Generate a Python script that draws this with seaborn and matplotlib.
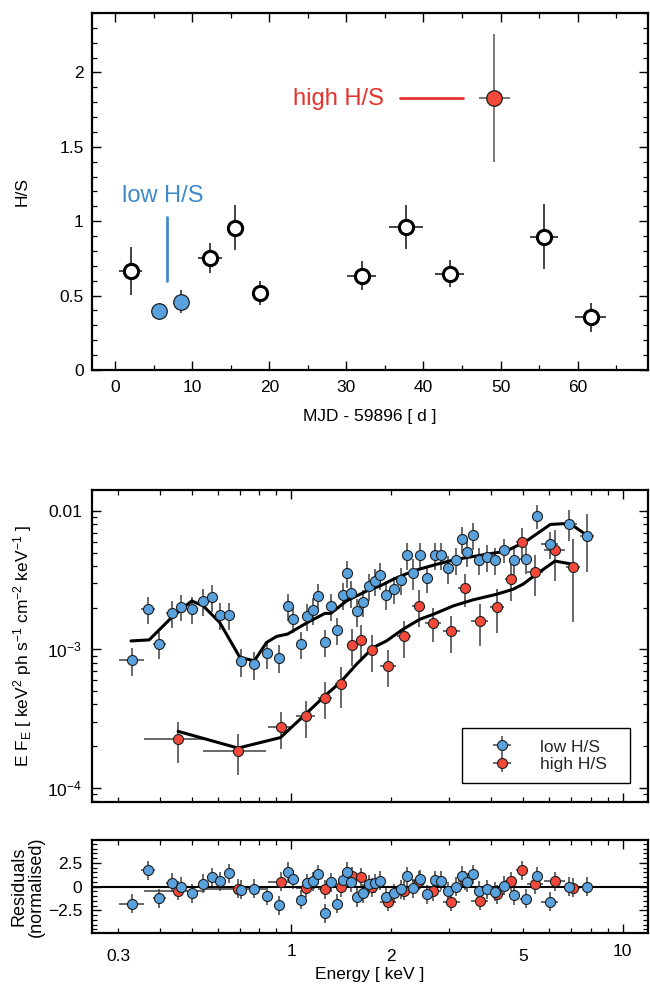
import numpy as np
import pandas as pd
import matplotlib
matplotlib.use("Agg")
import matplotlib.pyplot as plt
import seaborn as sns
from matplotlib.ticker import FixedLocator, FuncFormatter, MultipleLocator, NullFormatter
from matplotlib.lines import Line2D
from matplotlib.patches import Rectangle
from matplotlib.legend_handler import HandlerTuple

# ---------------- top panel: hardness ratio light curve ----------------
days = [2.0, 5.7, 8.5, 12.3, 15.6, 18.8, 32.0, 37.7, 43.4, 49.2, 55.6, 61.7]
days_err = [1.5, 0.3, 0.3, 1.6, 0.3, 0.3, 1.9, 2.2, 1.9, 2.0, 1.8, 2.0]
hs = [0.664, 0.396, 0.46, 0.755, 0.956, 0.516, 0.635, 0.96, 0.648, 1.83, 0.896, 0.353]
hs_err = [0.16, 0.05, 0.08, 0.10, 0.15, 0.08, 0.10, 0.15, 0.09, 0.43, 0.22, 0.095]
state = ["other", "low", "low", "other", "other", "other", "other", "other",
         "other", "high", "other", "other"]

# ---------------- middle panel: spectra (E F_E, units of 1e-3) ----------------
energy_low = [0.330, 0.370, 0.399, 0.435, 0.465, 0.501, 0.540, 0.574, 0.610, 0.649,
              0.705, 0.773, 0.845, 0.919, 0.974, 1.013, 1.068, 1.116, 1.158, 1.199,
              1.259, 1.315, 1.371, 1.427, 1.470, 1.515, 1.573, 1.643, 1.717, 1.786,
              1.857, 1.936, 2.033, 2.144, 2.240, 2.329, 2.441, 2.574, 2.715, 2.837,
              2.978, 3.134, 3.267, 3.390, 3.545, 3.686, 3.899, 4.122, 4.395, 4.690,
              5.107, 5.527, 6.036, 6.902, 7.818]
energy_low_err = [0.028, 0.018, 0.018, 0.016, 0.015, 0.018, 0.018, 0.016, 0.018, 0.02,
                  0.025, 0.03, 0.03, 0.03, 0.02, 0.02, 0.022, 0.022, 0.02, 0.02,
                  0.025, 0.025, 0.025, 0.02, 0.02, 0.02, 0.025, 0.03, 0.03, 0.03,
                  0.035, 0.04, 0.045, 0.05, 0.045, 0.05, 0.06, 0.07, 0.07, 0.06,
                  0.07, 0.08, 0.07, 0.07, 0.08, 0.09, 0.11, 0.12, 0.14, 0.16,
                  0.2, 0.22, 0.35, 0.4, 0.4]
flux_low_e3 = [0.835, 1.97, 1.10, 1.82, 2.04, 1.96, 2.25, 2.39, 1.77, 1.77,
               0.817, 0.777, 0.937, 0.872, 2.06, 1.67, 1.10, 1.73, 1.93, 2.45,
               1.13, 2.06, 1.37, 2.46, 3.55, 2.55, 1.89, 2.21, 2.86, 3.12,
               3.45, 2.46, 2.75, 3.16, 4.79, 3.59, 4.79, 3.30, 4.84, 4.84,
               3.85, 4.45, 6.29, 5.09, 6.75, 4.40, 4.65, 4.45, 5.26, 4.40,
               4.48, 9.25, 5.74, 8.10, 6.59]
flux_low_relerr = [0.23, 0.22, 0.22, 0.22, 0.22, 0.22, 0.22, 0.22, 0.22, 0.22,
                   0.23, 0.23, 0.23, 0.23, 0.22, 0.22, 0.22, 0.22, 0.22, 0.22,
                   0.22, 0.22, 0.22, 0.22, 0.22, 0.22, 0.23, 0.22, 0.22, 0.22,
                   0.22, 0.22, 0.22, 0.22, 0.22, 0.25, 0.22, 0.22, 0.22, 0.22,
                   0.23, 0.22, 0.22, 0.23, 0.22, 0.22, 0.22, 0.22, 0.2, 0.22,
                   0.22, 0.2, 0.22, 0.25, 0.45]
resid_low = [-1.81, 1.74, -1.22, 0.42, 0.0, -0.69, 0.31, 1.0, 0.59, 1.39,
             -0.31, -0.24, -0.94, -1.96, 1.56, 0.80, -1.39, 0.35, 0.56, 1.32,
             -2.81, 0.45, -1.81, 0.66, 1.56, 0.45, -1.11, -0.69, 0.24, 0.35,
             0.63, -1.04, -0.69, -0.28, 1.11, -0.17, 0.76, -0.80, 0.69, 0.63,
             -0.49, 0.0, 1.15, 0.45, 1.28, -0.42, -0.28, -0.56, 0.10, -0.90,
             -1.28, 1.11, -1.60, -0.03, 0.0]

energy_high = [0.455, 0.690, 0.927, 1.104, 1.262, 1.407, 1.523, 1.622, 1.749, 1.959,
               2.189, 2.419, 2.678, 3.040, 3.344, 3.703, 4.168, 4.613, 4.978, 5.452,
               6.249, 7.082]
energy_high_err = [0.095, 0.15, 0.08, 0.07, 0.06, 0.05, 0.04, 0.05, 0.06, 0.11,
                   0.1, 0.1, 0.15, 0.18, 0.15, 0.22, 0.2, 0.2, 0.2, 0.3,
                   0.45, 0.35]
flux_high_e3 = [0.224, 0.184, 0.273, 0.327, 0.444, 0.563, 1.08, 1.17, 0.981, 0.760,
                1.24, 2.07, 1.56, 1.35, 2.77, 1.59, 2.02, 3.22, 6.00, 3.63,
                5.24, 3.94]
flux_high_relerr = [0.33, 0.33, 0.30, 0.30, 0.30, 0.33, 0.30, 0.28, 0.30, 0.30,
                    0.30, 0.30, 0.28, 0.30, 0.27, 0.33, 0.35, 0.30, 0.25, 0.33,
                    0.40, 0.60]
resid_high = [-0.45, -0.21, 0.49, -0.14, -0.28, -0.07, 1.11, 0.97, -0.07, -1.60,
              -0.42, 0.63, -0.49, -1.60, 0.6, -1.49, -0.80, 0.56, 1.70, 0.24,
              0.56, -0.14]

# best-fitting models (units of 1e-3)
model_low_energy = [0.328, 0.372, 0.435, 0.500, 0.542, 0.608, 0.699, 0.773, 0.841, 0.902,
                    0.974, 1.116, 1.262, 1.315, 1.467, 1.717, 1.849, 2.029, 2.332, 2.741,
                    3.149, 3.878, 4.456, 5.120, 6.050, 6.923, 7.858]
model_low_flux_e3 = [1.15, 1.17, 1.70, 2.24, 2.06, 1.56, 0.873, 0.826, 1.12, 1.24,
                     1.29, 1.56, 1.82, 1.82, 2.24, 2.70, 2.87, 3.21, 3.69, 4.12,
                     4.48, 4.87, 5.14, 6.07, 8.01, 8.15, 6.59]
model_high_energy = [0.455, 0.690, 0.927, 1.104, 1.262, 1.407, 1.573, 1.765, 1.936, 2.175,
                     2.441, 2.678, 3.077, 3.533, 4.156, 4.667, 5.001, 5.484, 6.249, 7.082]
model_high_flux_e3 = [0.255, 0.193, 0.230, 0.340, 0.461, 0.579, 0.781, 1.03, 1.15, 1.40,
                      1.65, 1.79, 2.06, 2.28, 2.50, 2.72, 2.96, 3.49, 4.35, 4.12]

legend_labels = ["low H/S", "high H/S"]

# ---------------- style ----------------
BLUE = "#5aa2dd"
RED = "#f2493a"
BLUE_TXT = "#3f8bc9"
RED_TXT = "#e5322a"
EDGE = "#1e1e1e"
ECOL = "#404040"

sns.set_theme(style="ticks")
plt.rcParams.update({
    "font.family": ["Liberation Sans", "DejaVu Sans"],
    "font.size": 12.5,
    "mathtext.fontset": "custom",
    "mathtext.rm": "Liberation Sans",
    "mathtext.it": "Liberation Sans:italic",
    "mathtext.bf": "Liberation Sans:bold",
    "mathtext.default": "regular",
    "axes.linewidth": 1.6,
    "axes.edgecolor": "black",
    "axes.labelcolor": "black",
    "xtick.color": "black",
    "ytick.color": "black",
    "xtick.direction": "in",
    "ytick.direction": "in",
    "xtick.top": True,
    "ytick.right": True,
    "xtick.major.size": 6.5,
    "ytick.major.size": 6.5,
    "xtick.minor.size": 3.5,
    "ytick.minor.size": 3.5,
    "xtick.major.width": 1.0,
    "ytick.major.width": 1.0,
    "xtick.minor.width": 0.9,
    "ytick.minor.width": 0.9,
    "xtick.labelsize": 12.5,
    "ytick.labelsize": 12.5,
    "axes.labelsize": 12.5,
})

fig = plt.figure(figsize=(6.5, 9.9), dpi=100)
ax1 = fig.add_axes([0.1415, 0.6263, 0.855, 0.3606])
ax2 = fig.add_axes([0.1415, 0.1902, 0.855, 0.3148])
ax3 = fig.add_axes([0.1415, 0.0573, 0.855, 0.0942], sharex=ax2)

# ---------------- top panel ----------------
df_top = pd.DataFrame(dict(day=days, day_err=days_err, hs=hs, hs_err=hs_err, state=state))
for st, ec in [("other", "#111111"), ("low", "#222222"), ("high", "#555555")]:
    d = df_top[df_top.state == st]
    ax1.errorbar(d.day, d.hs, xerr=d.day_err, yerr=d.hs_err, fmt="none",
                 ecolor=ec, elinewidth=1.1, zorder=2)
sns.scatterplot(data=df_top[df_top.state == "other"], x="day", y="hs", ax=ax1,
                s=105, color="white", edgecolor="black", linewidth=2.2, zorder=3, legend=False)
sns.scatterplot(data=df_top[df_top.state == "low"], x="day", y="hs", ax=ax1,
                s=125, color=BLUE, edgecolor=EDGE, linewidth=0.9, zorder=3, legend=False)
sns.scatterplot(data=df_top[df_top.state == "high"], x="day", y="hs", ax=ax1,
                s=125, color=RED, edgecolor=EDGE, linewidth=0.9, zorder=3, legend=False)

ax1.text(0.9, 1.17, "low H/S", color=BLUE_TXT, fontsize=17, ha="left", va="center")
ax1.plot([6.67, 6.67], [0.6, 1.03], color=BLUE_TXT, lw=2.0)
ax1.text(23.1, 1.82, "high H/S", color=RED_TXT, fontsize=17, ha="left", va="center")
ax1.plot([36.9, 45.1], [1.83, 1.83], color=RED_TXT, lw=2.0)

ax1.set_xlim(-3, 69.1)
ax1.set_ylim(0, 2.4)
ax1.xaxis.set_major_locator(MultipleLocator(10))
ax1.xaxis.set_minor_locator(MultipleLocator(5))
ax1.yaxis.set_major_locator(MultipleLocator(0.5))
ax1.yaxis.set_minor_locator(MultipleLocator(0.1))
ax1.yaxis.set_major_formatter(FuncFormatter(lambda v, p: f"{v:g}"))
ax1.tick_params(axis="x", which="major", pad=7)
ax1.tick_params(axis="y", which="major", pad=6)
ax1.set_xlabel("MJD - 59896 [ d ]", labelpad=10)
ax1.set_ylabel("H/S")
ax1.yaxis.set_label_coords(-0.112, 0.5)

# ---------------- middle panel ----------------
E_lo = np.array(energy_low)
F_lo = np.array(flux_low_e3) * 1e-3
E_hi = np.array(energy_high)
F_hi = np.array(flux_high_e3) * 1e-3

ax2.set_xscale("log")
ax2.set_yscale("log")
ax2.errorbar(E_hi, F_hi, xerr=energy_high_err, yerr=F_hi * np.array(flux_high_relerr),
             fmt="none", ecolor=ECOL, elinewidth=1.1, zorder=2)
ax2.errorbar(E_lo, F_lo, xerr=energy_low_err, yerr=F_lo * np.array(flux_low_relerr),
             fmt="none", ecolor=ECOL, elinewidth=1.1, zorder=2)

df_mlo = pd.DataFrame(dict(energy=model_low_energy, flux=np.array(model_low_flux_e3) * 1e-3))
df_mhi = pd.DataFrame(dict(energy=model_high_energy, flux=np.array(model_high_flux_e3) * 1e-3))
sns.lineplot(data=df_mlo, x="energy", y="flux", ax=ax2, color="black", lw=2.2,
             sort=False, estimator=None, zorder=3)
sns.lineplot(data=df_mhi, x="energy", y="flux", ax=ax2, color="black", lw=2.2,
             sort=False, estimator=None, zorder=3)

sns.scatterplot(x=E_hi, y=F_hi, ax=ax2, s=52, color=RED, edgecolor=EDGE,
                linewidth=0.8, zorder=4, legend=False)
sns.scatterplot(x=E_lo, y=F_lo, ax=ax2, s=52, color=BLUE, edgecolor=EDGE,
                linewidth=0.8, zorder=4, legend=False)

ax2.set_xlim(0.25, 11.9)
ax2.set_ylim(7.9e-5, 0.0142)
ylab = {1e-2: "0.01", 1e-3: "$10^{-3}$", 1e-4: "$10^{-4}$"}
ax2.yaxis.set_major_locator(FixedLocator([1e-4, 1e-3, 1e-2]))
ax2.yaxis.set_major_formatter(FuncFormatter(
    lambda v, p: next((s for k, s in ylab.items() if abs(v / k - 1) < 1e-6), "")))
ax2.yaxis.set_minor_locator(FixedLocator(
    [m * 10.0 ** e for e in (-5, -4, -3, -2) for m in range(2, 10)]))
ax2.yaxis.set_minor_formatter(NullFormatter())
ax2.tick_params(axis="y", which="major", pad=7)
ax2.set_ylabel("E F$_E$ [ keV$^2$ ph s$^{-1}$ cm$^{-2}$ keV$^{-1}$ ]")
ax2.yaxis.set_label_coords(-0.105, 0.5)
ax2.set_xlabel("")
plt.setp(ax2.get_xticklabels(which="both"), visible=False)

# legend: frame drawn as a plain box, entries = error cross + marker overlaid
ax2.add_patch(Rectangle((0.665, 0.06), 0.303, 0.176, transform=ax2.transAxes,
                        facecolor="white", edgecolor="black", lw=1.0, zorder=5))
h_low = (Line2D([], [], marker="+", ms=13, mew=1.1, color=ECOL, ls="none"),
         Line2D([], [], marker="o", ms=7.2, mfc=BLUE, mec=EDGE, mew=0.8, ls="none"))
h_high = (Line2D([], [], marker="+", ms=13, mew=1.1, color=ECOL, ls="none"),
          Line2D([], [], marker="o", ms=7.2, mfc=RED, mec=EDGE, mew=0.8, ls="none"))
leg = ax2.legend([h_low, h_high], legend_labels,
                 handler_map={tuple: HandlerTuple(ndivide=1, pad=0)},
                 loc="center left", bbox_to_anchor=(0.677, 0.148),
                 fontsize=12.5, frameon=False, borderpad=0, labelspacing=0.12,
                 handlelength=3.9, handletextpad=0.25, borderaxespad=0)
leg.set_zorder(6)

# ---------------- bottom panel: residuals ----------------
ax3.errorbar(E_hi, resid_high, xerr=energy_high_err, yerr=1.0, fmt="none",
             ecolor=ECOL, elinewidth=1.1, zorder=2)
ax3.errorbar(E_lo, resid_low, xerr=energy_low_err, yerr=1.0, fmt="none",
             ecolor=ECOL, elinewidth=1.1, zorder=2)
ax3.axhline(0, color="black", lw=1.5, zorder=3)
sns.scatterplot(x=E_hi, y=resid_high, ax=ax3, s=52, color=RED, edgecolor=EDGE,
                linewidth=0.8, zorder=4, legend=False)
sns.scatterplot(x=E_lo, y=resid_low, ax=ax3, s=52, color=BLUE, edgecolor=EDGE,
                linewidth=0.8, zorder=4, legend=False)
ax3.set_ylim(-4.9, 4.9)
ax3.yaxis.set_major_locator(FixedLocator([-2.5, 0, 2.5]))
ax3.yaxis.set_minor_locator(MultipleLocator(0.5))
ax3.yaxis.set_major_formatter(FuncFormatter(lambda v, p: f"{v:g}".replace("-", "\u2212")))
ax3.tick_params(axis="y", which="major", pad=7)

ax3.set_xlim(0.25, 11.9)
ax3.xaxis.set_major_locator(FixedLocator([1, 10]))
ax3.xaxis.set_major_formatter(FuncFormatter(lambda v, p: f"{v:g}"))
minor_e = [m * 10.0 ** e for e in (-1, 0) for m in range(2, 10)]
ax3.xaxis.set_minor_locator(FixedLocator(minor_e))
ax3.xaxis.set_minor_formatter(FuncFormatter(
    lambda v, p: f"{v:g}" if any(abs(v - k) < 1e-6 for k in (0.3, 2, 5)) else ""))
ax3.tick_params(axis="x", which="major", pad=7.5)
ax3.tick_params(axis="x", which="minor", pad=11.5, labelsize=12.5)
ax3.set_xlabel("Energy [ keV ]", labelpad=2)
ax3.set_ylabel("Residuals\n(normalised)", linespacing=1.0, fontsize=13)
ax3.yaxis.set_label_coords(-0.085, 0.5)

for ax in (ax1, ax2, ax3):
    for sp in ax.spines.values():
        sp.set_linewidth(1.6)
        sp.set_visible(True)

fig.savefig("out.png", dpi=100)
